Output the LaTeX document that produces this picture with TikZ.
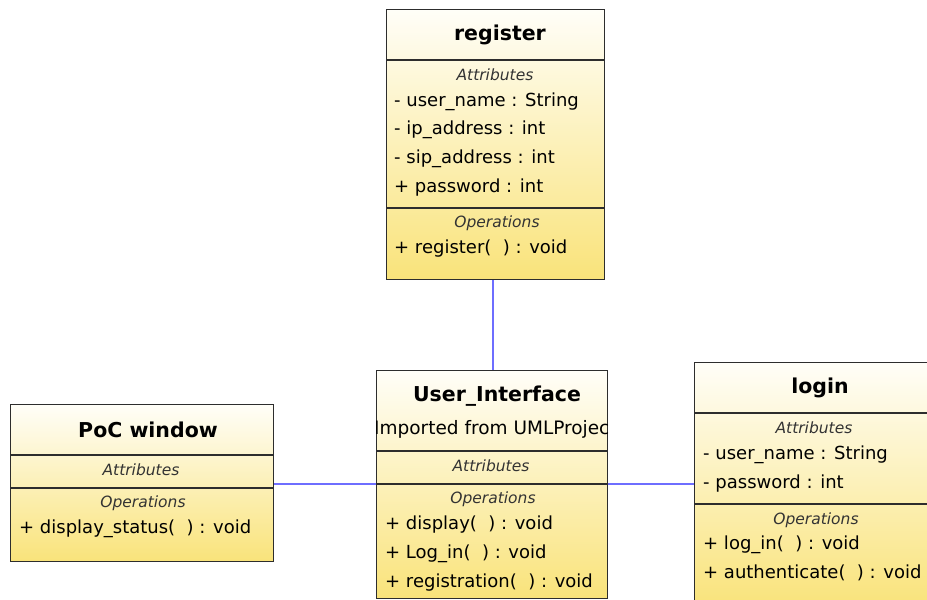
\documentclass[tikz,border=0pt]{standalone}
\usepackage{fontspec}
\setmainfont{DejaVu Sans}
\definecolor{boxline}{RGB}{45,45,45}
\definecolor{topc}{RGB}{255,254,248}
\definecolor{botc}{RGB}{249,227,122}
\definecolor{conn}{RGB}{110,110,255}
\begin{document}
\begin{tikzpicture}[x=1pt,y=-1pt,
  classbox/.style={draw=boxline, line width=1.3pt, top color=topc, bottom color=botc, inner sep=0pt, anchor=north west},
  sep/.style={draw=boxline, line width=1.3pt},
  ctitle/.style={font=\fontsize{20.5}{24}\bfseries\selectfont, inner sep=0pt},
  chead/.style={font=\fontsize{15.5}{18}\itshape\selectfont, text=black!80, inner sep=0pt},
  member/.style={font=\fontsize{18}{21}\selectfont, anchor=base west, inner sep=0pt},
  connector/.style={draw=conn, line width=1.2pt}]
\useasboundingbox (0,0) rectangle (927,600);
\clip (0,0) rectangle (927,600);
\node[classbox, minimum width=218pt, minimum height=270pt] (reg) at (386,9) {};
\node[classbox, minimum width=263pt, minimum height=157pt] (poc) at (10,404) {};
\node[classbox, minimum width=231pt, minimum height=228pt] (ui) at (376,370) {};
\node[classbox, minimum width=250pt, minimum height=245pt] (login) at (694,362) {};
% connectors
\coordinate (hline) at (0,484);
\draw[connector] (reg.south -| 493,0) -- (ui.north -| 493,0);
\draw[connector] (poc.east |- hline) -- (ui.west |- hline);
\draw[connector] (ui.east |- hline) -- (login.west |- hline);
% register
\draw[sep] (reg.west |- 0,60) -- (reg.east |- 0,60);
\draw[sep] (reg.west |- 0,208) -- (reg.east |- 0,208);
\node[ctitle] (regt) at (500,35) {register};
\node[chead] (rega) at (495,75) {Attributes};
\node[member] (reg1) at (394,106) {- user\_name : String};
\node[member] (reg2) at (394,134.5) {- ip\_address : int};
\node[member] (reg3) at (394,163) {- sip\_address : int};
\node[member] (reg4) at (394,192) {+ password : int};
\node[chead] (rego) at (497,223) {Operations};
\node[member] (reg5) at (394,253) {+ register(\ \ ) : void};
% PoC window
\draw[sep] (poc.west |- 0,455) -- (poc.east |- 0,455);
\draw[sep] (poc.west |- 0,488) -- (poc.east |- 0,488);
\node[ctitle] (poct) at (148,430) {PoC window};
\node[chead] (poca) at (141,470) {Attributes};
\node[chead] (poco) at (143,503) {Operations};
\node[member] (poc1) at (19,533) {+ display\_status(\ \ ) : void};
% User_Interface
\draw[sep] (ui.west |- 0,451) -- (ui.east |- 0,451);
\draw[sep] (ui.west |- 0,484) -- (ui.east |- 0,484);
\node[ctitle] (uit) at (497,396) {User\_Interface};
\begin{scope}
\clip (ui.north west) rectangle (ui.south east);
\node[font=\fontsize{18.5}{21}\selectfont, anchor=base west, inner sep=0pt] (uis) at (374,434) {Imported from UMLProject};
\end{scope}
\node[chead] (uia) at (491,466) {Attributes};
\node[chead] (uio) at (493,499) {Operations};
\node[member] (ui1) at (385,529) {+ display(\ \ ) : void};
\node[member] (ui2) at (385,558) {+ Log\_in(\ \ ) : void};
\node[member] (ui3) at (385,587) {+ registration(\ \ ) : void};
% login
\draw[sep] (login.west |- 0,413) -- (927,413);
\draw[sep] (login.west |- 0,504) -- (927,504);
\node[ctitle] (logt) at (820,388) {login};
\node[chead] (loga) at (814,428) {Attributes};
\node[member] (log1) at (703,459) {- user\_name : String};
\node[member] (log2) at (703,488) {- password : int};
\node[chead] (logo) at (816,520) {Operations};
\node[member] (log3) at (703,549) {+ log\_in(\ \ ) : void};
\node[member] (log4) at (703,578) {+ authenticate(\ \ ) : void};
\end{tikzpicture}
\end{document}
